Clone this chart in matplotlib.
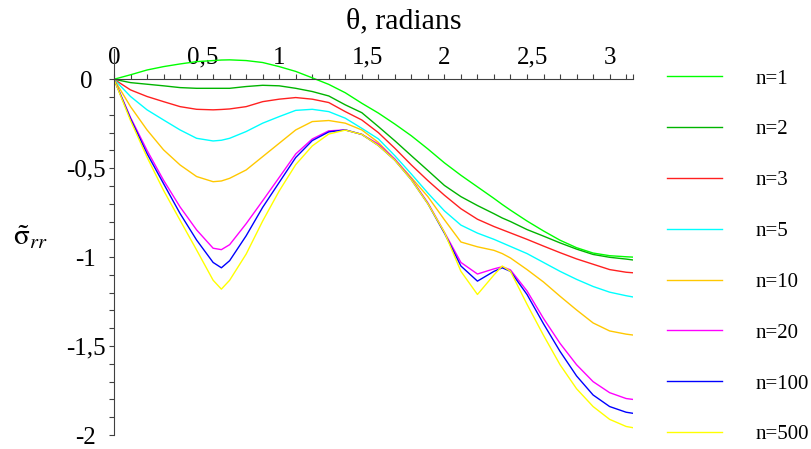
import numpy as np
import matplotlib
matplotlib.use('Agg')
import matplotlib.pyplot as plt
from matplotlib.transforms import ScaledTranslation

plt.rcParams['font.family'] = ['Liberation Serif', 'DejaVu Serif']
plt.rcParams['mathtext.fontset'] = 'stix'

# theta grid (radians) shared by all curves
theta = [0, 0.1, 0.2, 0.3, 0.4, 0.5, 0.6, 0.65, 0.7, 0.8, 0.9, 1.0, 1.1, 1.2,
         1.3, 1.4, 1.5, 1.6, 1.7, 1.8, 1.9, 2.0, 2.1, 2.2, 2.3, 2.35, 2.4, 2.5,
         2.6, 2.7, 2.8, 2.9, 3.0, 3.1, np.pi]

s_n1 = [0, 0.025, 0.052, 0.071, 0.086, 0.099, 0.105, 0.108, 0.109, 0.105, 0.094,
        0.071, 0.044, 0.008, -0.029, -0.076, -0.135, -0.19, -0.252, -0.318,
        -0.392, -0.47, -0.54, -0.605, -0.67, -0.704, -0.736, -0.797, -0.853,
        -0.905, -0.947, -0.977, -0.992, -0.998, -1.0]
s_n2 = [0, -0.019, -0.028, -0.037, -0.047, -0.051, -0.051, -0.051, -0.051,
        -0.041, -0.034, -0.037, -0.051, -0.069, -0.094, -0.144, -0.188, -0.266,
        -0.346, -0.43, -0.513, -0.597, -0.66, -0.71, -0.756, -0.78, -0.80,
        -0.845, -0.882, -0.92, -0.955, -0.985, -1.001, -1.011, -1.016]
s_n3 = [0, -0.06, -0.097, -0.126, -0.154, -0.169, -0.172, -0.170, -0.167,
        -0.154, -0.126, -0.112, -0.103, -0.112, -0.131, -0.182, -0.229, -0.30,
        -0.388, -0.482, -0.57, -0.652, -0.728, -0.787, -0.828, -0.846, -0.864,
        -0.90, -0.938, -0.975, -1.01, -1.04, -1.07, -1.085, -1.088]
s_n5 = [0, -0.097, -0.172, -0.229, -0.285, -0.332, -0.347, -0.343, -0.332,
        -0.294, -0.247, -0.210, -0.175, -0.169, -0.182, -0.219, -0.276, -0.335,
        -0.43, -0.533, -0.64, -0.74, -0.82, -0.865, -0.90, -0.92, -0.94, -0.98,
        -1.03, -1.08, -1.125, -1.165, -1.197, -1.217, -1.224]
s_n10 = [0, -0.154, -0.285, -0.397, -0.482, -0.547, -0.576, -0.572, -0.557,
         -0.510, -0.435, -0.36, -0.285, -0.238, -0.232, -0.247, -0.285, -0.355,
         -0.45, -0.553, -0.66, -0.79, -0.915, -0.942, -0.962, -0.98, -1.005,
         -1.07, -1.14, -1.22, -1.297, -1.37, -1.415, -1.433, -1.438]
s_n20 = [0, -0.215, -0.40, -0.568, -0.718, -0.847, -0.95, -0.958, -0.93, -0.812,
         -0.683, -0.552, -0.42, -0.336, -0.29, -0.285, -0.31, -0.364, -0.449,
         -0.56, -0.695, -0.86, -1.03, -1.095, -1.066, -1.054, -1.072, -1.19,
         -1.345, -1.485, -1.605, -1.70, -1.762, -1.795, -1.80]
s_n100 = [0, -0.222, -0.418, -0.587, -0.755, -0.904, -1.03, -1.06, -1.02, -0.88,
          -0.72, -0.58, -0.44, -0.345, -0.296, -0.285, -0.31, -0.372, -0.455,
          -0.565, -0.70, -0.865, -1.05, -1.135, -1.08, -1.06, -1.08, -1.21,
          -1.375, -1.53, -1.668, -1.775, -1.84, -1.872, -1.878]
s_n500 = [0, -0.232, -0.438, -0.625, -0.793, -0.96, -1.13, -1.18, -1.13, -0.983,
          -0.797, -0.628, -0.48, -0.375, -0.308, -0.286, -0.31, -0.372, -0.455,
          -0.565, -0.70, -0.86, -1.08, -1.21, -1.10, -1.05, -1.08, -1.265, -1.44,
          -1.605, -1.74, -1.84, -1.912, -1.952, -1.959]

labels = ['n=1', 'n=2', 'n=3', 'n=5', 'n=10', 'n=20', 'n=100', 'n=500']
colors = ['#00ff00', '#00b400', '#ff2020', '#00ffff', '#ffc800', '#ff00ff',
          '#0000ff', '#ffff00']
series = [s_n1, s_n2, s_n3, s_n5, s_n10, s_n20, s_n100, s_n500]

xticks = [0, 0.5, 1, 1.5, 2, 2.5, 3]
xlabels = ['0', '0,5', '1', '1,5', '2', '2,5', '3']
yticks = [0, -0.5, -1, -1.5, -2]
ylabels = ['0', '-0,5', '-1', '-1,5', '-2']

fig = plt.figure(figsize=(8.12, 4.49), dpi=100)
ax = fig.add_axes([114/812, 14/449, (633-114)/812, (435-49)/449])

for ys, c, lab in zip(series, colors, labels):
    ax.plot(theta, ys, color=c, lw=1.0, label=lab)

ax.set_xlim(0, np.pi)
ax.set_ylim(-2, 0.17)

axcol = '#404040'
for side in ['bottom', 'right']:
    ax.spines[side].set_visible(False)
ax.spines['top'].set_position(('data', 0))
ax.spines['top'].set_color(axcol)
ax.spines['left'].set_color(axcol)
ax.xaxis.set_ticks_position('top')
ax.yaxis.set_ticks_position('left')

ax.set_xticks(xticks, xlabels)
minor_x = [t for t in np.arange(0.1, 3.15, 0.1) if abs(t*2 - round(t*2)) > 1e-6]
ax.set_xticks(minor_x + [np.pi], minor=True)
ax.set_yticks(yticks, ylabels)
minor_y = [t for t in np.arange(-1.9, 0.05, 0.1) if abs(t*2 - round(t*2)) > 1e-6]
ax.set_yticks(minor_y, minor=True)

ax.tick_params(axis='both', which='both', direction='out', length=3.6,
               width=0.8, color=axcol, labelsize=18)
ax.tick_params(axis='x', which='both', pad=4)
ax.tick_params(axis='y', which='both', pad=16.6)
for lbl in ax.get_yticklabels():
    lbl.set_horizontalalignment('center')
shift = ScaledTranslation(6/100, 0, fig.dpi_scale_trans)
for lbl in ax.get_xticklabels():
    if ',' in lbl.get_text():
        lbl.set_transform(lbl.get_transform() + shift)

fig.text(404/812, (449-28)/449, 'θ, radians', ha='center', va='baseline',
         fontsize=21.5)
fig.text(13/812, (449-237)/449, r'$\tilde{\mathrm{\sigma}}_{rr}$', ha='left',
         va='center', fontsize=21)

ax.legend(loc='upper left', bbox_to_anchor=(667/812, (449-69)/449),
          bbox_transform=fig.transFigure, frameon=False, fontsize=15,
          handlelength=2.64, handletextpad=1.59, labelspacing=1.5,
          borderpad=0, borderaxespad=0)

fig.savefig('out.png', dpi=100)
